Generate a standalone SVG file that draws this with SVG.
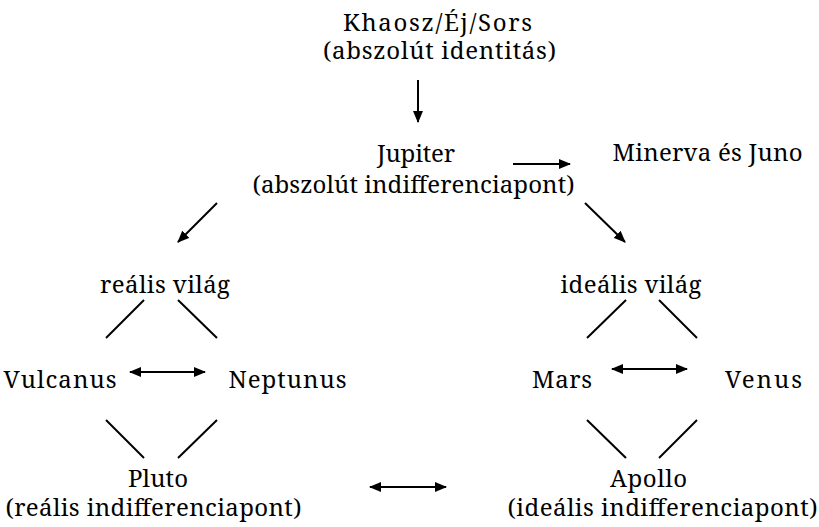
<svg xmlns="http://www.w3.org/2000/svg" width="819" height="527" viewBox="0 0 819 527">
<style>
text{font-family:"Noto Serif","Liberation Serif","DejaVu Serif",serif;font-size:24px;fill:#000;text-anchor:middle}
.c{stroke:#000;stroke-width:2;fill:none}
.a{marker-end:url(#ah)}
.d{marker-start:url(#ahs);marker-end:url(#ah)}
</style>
<defs>
<marker id="ah" markerUnits="userSpaceOnUse" markerWidth="12" markerHeight="10" refX="11" refY="5" orient="auto" viewBox="0 0 12 10"><path d="M0,0 L12,5 L0,10 z" fill="#000"/></marker>
<marker id="ahs" markerUnits="userSpaceOnUse" markerWidth="12" markerHeight="10" refX="1" refY="5" orient="auto" viewBox="0 0 12 10"><path d="M12,0 L0,5 L12,10 z" fill="#000"/></marker>
</defs>
<rect width="819" height="527" fill="#fff"/>
<g id="khaosz"><text x="437.5" y="31" textLength="189" lengthAdjust="spacing">Khaosz/Éj/Sors</text><text x="439.5" y="59" textLength="233" lengthAdjust="spacing">(abszolút identitás)</text></g>
<g id="jupiter"><text x="416" y="162" textLength="78" lengthAdjust="spacing">Jupiter</text><text x="413.5" y="193" textLength="322" lengthAdjust="spacing">(abszolút indifferenciapont)</text></g>
<g id="minerva"><text x="707.5" y="161" textLength="190" lengthAdjust="spacing">Minerva és Juno</text></g>
<g id="realis"><text x="165" y="293" textLength="130" lengthAdjust="spacing">reális világ</text></g>
<g id="idealis"><text x="631" y="293" textLength="141" lengthAdjust="spacing">ideális világ</text></g>
<g id="vulcanus"><text x="60" y="388" textLength="113" lengthAdjust="spacing">Vulcanus</text></g>
<g id="neptunus"><text x="287.5" y="388" textLength="118" lengthAdjust="spacing">Neptunus</text></g>
<g id="mars"><text x="562" y="388" textLength="60" lengthAdjust="spacing">Mars</text></g>
<g id="venus"><text x="763.5" y="388" textLength="77" lengthAdjust="spacing">Venus</text></g>
<g id="pluto"><text x="158" y="487" textLength="60" lengthAdjust="spacing">Pluto</text><text x="153.5" y="516" textLength="296" lengthAdjust="spacing">(reális indifferenciapont)</text></g>
<g id="apollo"><text x="648.5" y="487" textLength="77" lengthAdjust="spacing">Apollo</text><text x="662.5" y="516" textLength="310" lengthAdjust="spacing">(ideális indifferenciapont)</text></g>
<g id="connectors">
<line class="c a" x1="418" y1="80" x2="418" y2="122"/>
<line class="c a" x1="513" y1="164" x2="570" y2="164"/>
<line class="c a" x1="217" y1="203" x2="178" y2="242"/>
<line class="c a" x1="585" y1="203" x2="625" y2="242"/>
<line class="c" x1="144" y1="300" x2="106" y2="338"/>
<line class="c" x1="178" y1="300" x2="217" y2="338"/>
<line class="c" x1="626" y1="300" x2="587" y2="338"/>
<line class="c" x1="659" y1="300" x2="697" y2="338"/>
<line class="c d" x1="130" y1="372" x2="205" y2="372"/>
<line class="c d" x1="612" y1="369" x2="687" y2="369"/>
<line class="c" x1="106" y1="420" x2="144" y2="458"/>
<line class="c" x1="217" y1="420" x2="178" y2="458"/>
<line class="c" x1="587" y1="420" x2="626" y2="458"/>
<line class="c" x1="697" y1="420" x2="659" y2="458"/>
<line class="c d" x1="370" y1="487" x2="446" y2="487"/>
</g>
</svg>
